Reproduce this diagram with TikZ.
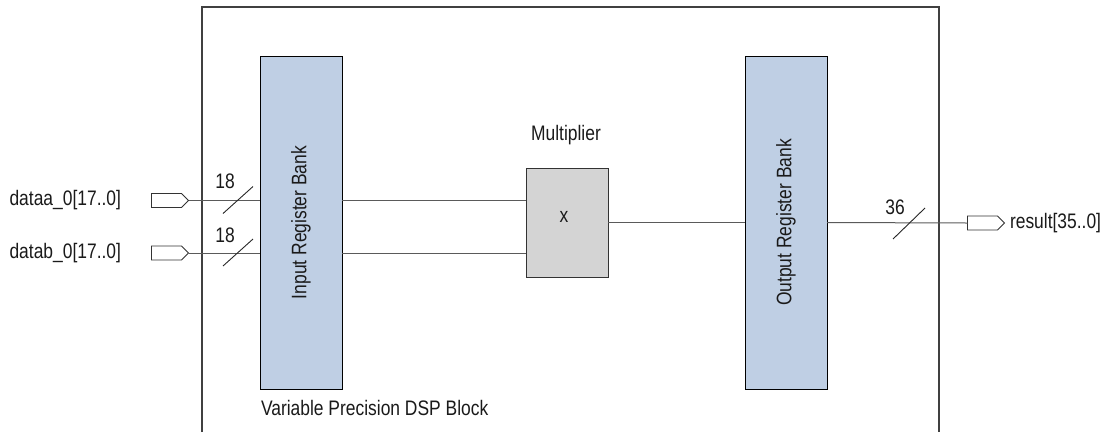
\documentclass[tikz,border=0pt]{standalone}
\usepackage{fontspec}
\setmainfont[FakeStretch=0.83]{Liberation Sans}
\usetikzlibrary{shapes.symbols,calc}
\definecolor{bankblue}{HTML}{BFCFE4}
\definecolor{mulgray}{HTML}{D4D4D4}
\definecolor{wire}{HTML}{5A5A5A}
\definecolor{txt}{HTML}{1A1A1A}
\begin{document}
\begin{tikzpicture}[x=1pt,y=-1pt,
  every node/.style={inner sep=0pt,outer sep=0pt,text=txt,font=\fontsize{21}{23}\selectfont},
  bank/.style={draw=black,fill=bankblue,line width=1pt,minimum width=82pt,minimum height=333pt},
  mult/.style={draw=black!80,fill=mulgray,line width=1pt,minimum width=82pt,minimum height=109pt},
  pin/.style={draw=black!80,fill=white,line width=0.8pt,signal,signal to=east,signal pointer angle=90,minimum width=37pt,minimum height=14pt},
  wireline/.style={draw=wire,line width=1pt},
  busslash/.style={draw=black!85,line width=0.9pt},
  lbl/.style={}
]
\useasboundingbox (0,0) rectangle (1107,432);
% outer block (open at bottom)
\draw[black!75,line width=1.2pt] (202,432) -- (202,7) -- (939,7) -- (939,432);
\node[lbl,anchor=west] (dsp) at (261,408) {Variable Precision DSP Block};
% banks
\node[bank] (inbank) at (301,222.5) {};
\node[rotate=90] (inlbl) at (inbank.center) {Input Register Bank};
\node[bank] (outbank) at (786,222.5) {};
\node[rotate=90] (outlbl) at (outbank.center) {Output Register Bank};
% multiplier
\node[mult] (mul) at (567,222.5) {};
\node (x) at (564,217) {x};
\node (multlbl) at (566,135) {Multiplier};
% input pins
\node[pin] (pina) at (166.5,200.5) {};
\node[pin] (pinb) at (166.5,253) {};
\node[anchor=east] (la) at (121,200.5) {dataa\_0[17..0]};
\node[anchor=east] (lb) at (121,253) {datab\_0[17..0]};
\draw[wireline] (pina.east) -- (pina.east -| inbank.west);
\draw[wireline] (pinb.east) -- (pinb.east -| inbank.west);
% bus slashes
\coordinate (sa) at (238,200.5);
\coordinate (sb) at (238,253);
\draw[busslash] ($(sa)+(-15,13)$) -- ($(sa)+(15,-14)$);
\draw[busslash] ($(sb)+(-15,13)$) -- ($(sb)+(15,-14)$);
\node (na) at (225,181) {18};
\node (nb) at (225,235) {18};
% bank to multiplier
\draw[wireline] (inbank.east |- pina.east) -- (mul.west |- pina.east);
\draw[wireline] (inbank.east |- pinb.east) -- (mul.west |- pinb.east);
% multiplier to output bank
\draw[wireline] (mul.east) -- (outbank.west);
% output
\node[pin] (pinr) at (982.5,223) {};
\draw[wireline] (outbank.east) -- (pinr.west);
\coordinate (sr) at (909,223);
\draw[busslash] ($(sr)+(-16,16)$) -- ($(sr)+(16,-15)$);
\node (nr) at (895,207) {36};
\node[anchor=west] (lr) at (1010,223) {result[35..0]};
\end{tikzpicture}
\end{document}
